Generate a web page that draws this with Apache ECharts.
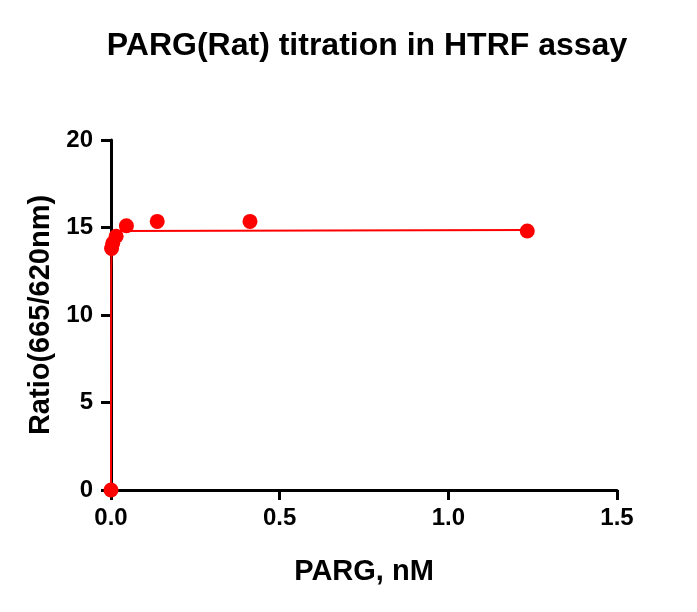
<!DOCTYPE html>
<html lang="en">
<head>
    <meta charset="UTF-8">
    <title>PARG(Rat) titration in HTRF assay</title>
    <script src="https://cdn.jsdelivr.net/npm/echarts@6/dist/echarts.min.js"></script>
    <style>
        body { margin: 0; background: #fff; }
        #chart { width: 697px; height: 612px; }
    </style>
</head>
<body>
    <div id="chart"></div>
    <script>
        // PARG concentration (nM) and HTRF ratio
        const pargConc = [0, 0.00169, 0.00508, 0.0152, 0.0457, 0.137, 0.412, 1.234];
        const ratio = [0, 13.8, 14.1, 14.5, 15.1, 15.35, 15.35, 14.8];

        // fitted curve, points
        const fitX = [0, 0.0005, 0.002, 0.006, 0.02, 1.234];
        const fitY = [0, 12.5, 14.0, 14.55, 14.8, 14.86];

        const font = 'Arial, "Liberation Sans", sans-serif';
        const chart = echarts.init(document.getElementById('chart'));

        const axisCommon = {
            axisLine: { show: true, lineStyle: { color: '#000', width: 3 } },
            axisTick: { show: true, inside: false, length: 10, lineStyle: { color: '#000', width: 3 } },
            splitLine: { show: false },
            axisLabel: { color: '#000', fontFamily: font, fontWeight: 'bold', fontSize: 24 },
            nameTextStyle: { color: '#000', fontFamily: font, fontWeight: 'bold', fontSize: 29 },
            nameLocation: 'middle'
        };

        chart.setOption({
            animation: false,
            title: {
                text: 'PARG(Rat) titration in HTRF assay',
                left: 362,
                textAlign: 'center',
                top: 25,
                textStyle: { color: '#000', fontFamily: font, fontWeight: 'bold', fontSize: 32 }
            },
            grid: { left: 111, right: 80, top: 140, bottom: 122 },
            xAxis: Object.assign({}, axisCommon, {
                type: 'value',
                min: 0, max: 1.5, interval: 0.5,
                name: 'PARG, nM',
                nameGap: 67,
                axisLabel: Object.assign({}, axisCommon.axisLabel, {
                    margin: 16,
                    formatter: v => v.toFixed(1)
                })
            }),
            yAxis: Object.assign({}, axisCommon, {
                type: 'value',
                min: 0, max: 20, interval: 5,
                name: 'Ratio(665/620nm)',
                nameGap: 56,
                axisLabel: Object.assign({}, axisCommon.axisLabel, { margin: 18 })
            }),
            series: [
                {
                    type: 'line',
                    data: fitX.map((x, i) => [x, fitY[i]]),
                    showSymbol: false,
                    lineStyle: { color: '#ff0000', width: 2 },
                    z: 2
                },
                {
                    type: 'scatter',
                    data: pargConc.map((x, i) => [x, ratio[i]]),
                    symbolSize: 15,
                    itemStyle: { color: '#ff0000', opacity: 1 },
                    z: 3
                }
            ]
        });
    </script>
</body>
</html>
